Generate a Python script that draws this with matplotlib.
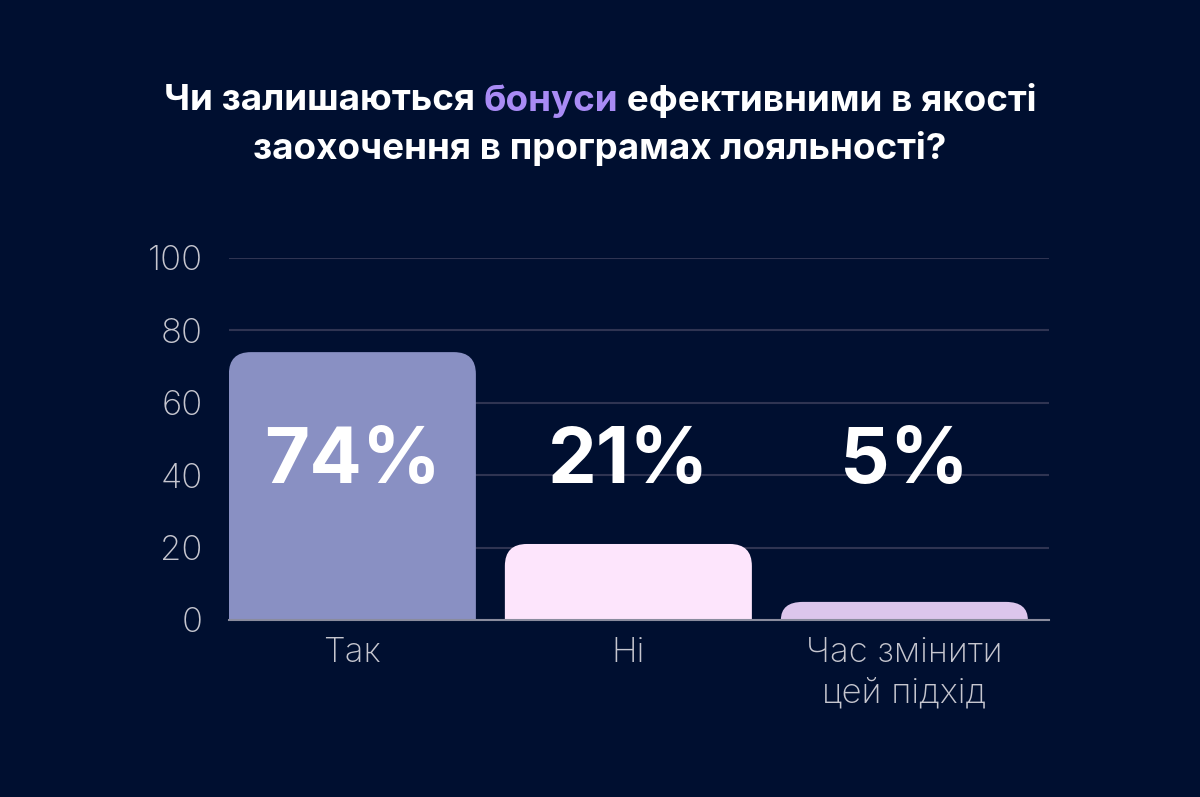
import matplotlib.pyplot as plt
from matplotlib.path import Path
from matplotlib.patches import PathPatch

# data
categories = ["Так", "Ні", "Час змінити\nцей підхід"]
values = [74, 21, 5]
labels = ["74%", "21%", "5%"]
bar_colors = ["#8990c3", "#fde5fc", "#dcc6ec"]
yticks = [0, 20, 40, 60, 80, 100]

bg = "#000f30"
plt.rcParams['font.family'] = ['Inter', 'DejaVu Sans']

fig = plt.figure(figsize=(12, 7.97), dpi=100, facecolor=bg)
ax = fig.add_axes([229/1200, 1 - 620/797, 820/1200, 362/797])
ax.set_facecolor(bg)

x = range(len(categories))
bars = ax.bar(x, values, width=0.895, color=bar_colors, zorder=3)
ax.set_xlim(-0.447, 2.524)
ax.set_ylim(0, 100)

# replace bars by ones with rounded top corners
fig.canvas.draw()
px_x = ax.transData.transform((1, 0))[0] - ax.transData.transform((0, 0))[0]
px_y = ax.transData.transform((0, 1))[1] - ax.transData.transform((0, 0))[1]
r = 22
for b in bars:
    x0, y0, w, h = b.get_x(), b.get_y(), b.get_width(), b.get_height()
    rx = r / px_x
    ry = min(r / px_y, h)
    verts = [(x0, y0), (x0, y0 + h - ry), (x0, y0 + h), (x0 + rx, y0 + h),
             (x0 + w - rx, y0 + h), (x0 + w, y0 + h), (x0 + w, y0 + h - ry),
             (x0 + w, y0), (x0, y0)]
    codes = [Path.MOVETO, Path.LINETO, Path.CURVE3, Path.CURVE3, Path.LINETO,
             Path.CURVE3, Path.CURVE3, Path.LINETO, Path.CLOSEPOLY]
    ax.add_patch(PathPatch(Path(verts, codes), facecolor=b.get_facecolor(),
                           edgecolor='none', zorder=3))
    b.set_visible(False)

for i, lab in enumerate(labels):
    ax.text(i, 43.6, lab, ha='center', va='center', color='white',
            fontsize=56, fontweight='bold', zorder=5)

ax.set_yticks(yticks)
ax.set_xticks(list(x))
ax.set_xticklabels(categories, linespacing=1.35)
ax.tick_params(axis='both', length=0, colors='#c6c6cf', labelsize=25)
ax.tick_params(axis='y', pad=19)
ax.tick_params(axis='x', pad=12)
for t in ax.get_yticklabels() + ax.get_xticklabels():
    t.set_fontweight('light')
ax.grid(axis='y', color='#2f3452', linewidth=1.5, zorder=0)
for s in ['top', 'right', 'left']:
    ax.spines[s].set_visible(False)
ax.spines['bottom'].set_color('#8a8c9e')
ax.spines['bottom'].set_linewidth(1.5)
ax.spines['bottom'].set_zorder(4)

# title with one coloured word
parts1 = [("Чи залишаються ", "white"), ("бонуси", "#a98bf5"),
          (" ефективними в якості", "white")]
line2 = "заохочення в програмах лояльності?"
renderer = fig.canvas.get_renderer()
tkw = dict(fontsize=26.5, fontweight='bold', va='center')
widths = []
for s, c in parts1:
    t = fig.text(0, 0, s, **tkw)
    widths.append(t.get_window_extent(renderer).width)
    t.remove()
xpos = 600 - sum(widths) / 2
for (s, c), w in zip(parts1, widths):
    fig.text(xpos / 1200, 1 - 101/797, s, color=c, ha='left', **tkw)
    xpos += w
fig.text(0.5, 1 - 148/797, line2, color='white', ha='center', **tkw)

fig.savefig("out.png", dpi=100, facecolor=bg)
